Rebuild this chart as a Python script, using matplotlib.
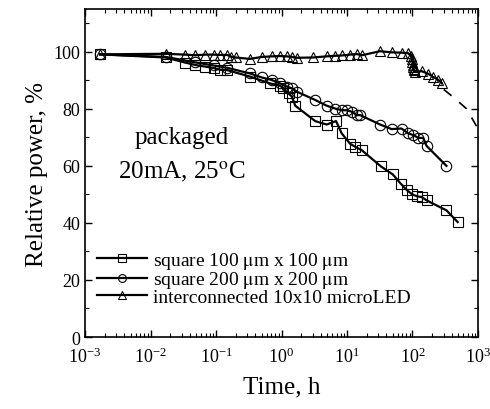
import matplotlib
matplotlib.use("Agg")
import matplotlib.pyplot as plt

plt.rcParams['font.family'] = ['Liberation Serif', 'DejaVu Serif']
plt.rcParams['mathtext.fontset'] = 'stix'

# square 100 um x 100 um
t_sq = [0.0017, 0.017, 0.034, 0.048, 0.069, 0.092, 0.116, 0.147, 0.33, 0.67, 0.95, 1.07, 1.28,
        1.44, 1.62, 3.27, 4.9, 6.8, 8.3, 11.1, 13.3, 16.8, 33, 50, 66, 83, 99, 118, 138, 164, 330, 490]
p_sq = [99.1, 98.0, 96.2, 95.4, 94.8, 94.3, 93.7, 93.6, 91.3, 88.9, 88.1, 87.2, 85.4,
        84.3, 81.1, 75.7, 74.5, 75.7, 71.4, 67.8, 66.7, 65.5, 59.8, 57.0, 53.8, 51.4, 50.0, 49.3, 49.1, 47.9, 44.4, 40.3]

# square 200 um x 200 um
t_ci = [0.0017, 0.017, 0.048, 0.092, 0.147, 0.33, 0.50, 0.71, 0.95, 1.21, 1.44, 1.72, 3.27, 4.9, 6.6,
        8.3, 9.9, 11.8, 14.1, 15.9, 32, 48, 68, 86, 103, 123, 146, 164, 330]
p_ci = [99.1, 98.2, 96.3, 95.2, 94.4, 92.4, 91.0, 90.1, 88.9, 87.8, 87.2, 86.0, 83.1, 81.1, 80.1,
        79.5, 79.5, 79.0, 77.8, 77.8, 74.5, 72.9, 73.1, 71.4, 70.8, 69.8, 69.8, 67.0, 60.0]

# interconnected 10x10 microLED
t_tr = [0.0017, 0.017, 0.034, 0.048, 0.069, 0.092, 0.116, 0.147, 0.17, 0.2, 0.33, 0.5, 0.71, 0.95,
        1.2, 1.44, 1.72, 3.0, 4.9, 6.6, 8.3, 11, 14, 17, 32, 48, 68, 86, 95, 98, 100, 101, 102, 104,
        106, 110, 138, 173, 206, 246, 279]
p_tr = [99.1, 99.3, 99.0, 98.8, 99.0, 99.0, 98.9, 98.9, 98.3, 98.0, 97.5, 98.2, 98.4, 98.5,
        98.4, 98.2, 97.9, 98.0, 98.4, 98.6, 98.7, 99.0, 99.2, 98.8, 100.2, 99.8, 99.7, 99.5, 98.5, 97.5, 96.5, 95.5, 94.5, 94.0,
        93.5, 93.0, 93.2, 92.3, 91.2, 90.2, 89.0]

# dashed extrapolation
t_fit = [300, 450, 670, 1000]
p_fit = [86.8, 83.5, 80.0, 73.0]

fig = plt.figure(figsize=(4.9, 4.1), dpi=100)
ax = fig.add_axes([0.1735, 0.1756, 0.802, 0.80])

kw = dict(color='black', lw=1.6, mfc='none', mec='black', mew=0.8, ms=7.5)
ax.plot(t_sq, p_sq, marker='s', label=r'square 100 $\mathrm{\mu}$m x 100 $\mathrm{\mu}$m', **kw)
ax.plot(t_ci, p_ci, marker='o', label=r'square 200 $\mathrm{\mu}$m x 200 $\mathrm{\mu}$m', **kw)
ax.plot(t_tr, p_tr, marker='^', label='interconnected 10x10 microLED', **kw)
ax.plot(t_fit, p_fit, color='black', lw=1.2, ls=(0, (6, 6)))

ax.set_xscale('log')
ax.set_xlim(1e-3, 1e3)
ax.set_ylim(0, 115)
ax.set_yticks([0, 20, 40, 60, 80, 100])
ax.set_yticks(range(10, 115, 20), minor=True)
ax.tick_params(which='both', direction='in', top=True, right=True, labelsize=13)
ax.tick_params(which='major', length=5, width=1)
ax.tick_params(which='minor', length=3, width=0.8)
ax.tick_params(axis='x', which='major', pad=7)
for s in ax.spines.values():
    s.set_linewidth(1.2)

ax.set_xlabel('Time, h', fontsize=18, labelpad=7)
ax.set_ylabel('Relative power, %', fontsize=18, labelpad=4)

ax.text(0.247, 0.61, 'packaged', transform=ax.transAxes, fontsize=18, ha='center', va='center')
ax.text(0.245, 0.506, r'20mA, 25$^{\rm o}$C', transform=ax.transAxes, fontsize=18, ha='center', va='center')

ax.legend(loc='lower left', bbox_to_anchor=(-0.005, 0.053), frameon=False, fontsize=14,
          handlelength=2.6, numpoints=1, markerscale=0.75, borderaxespad=0.3,
          labelspacing=-0.1, handletextpad=0.3)

fig.savefig('out.png', dpi=100)
